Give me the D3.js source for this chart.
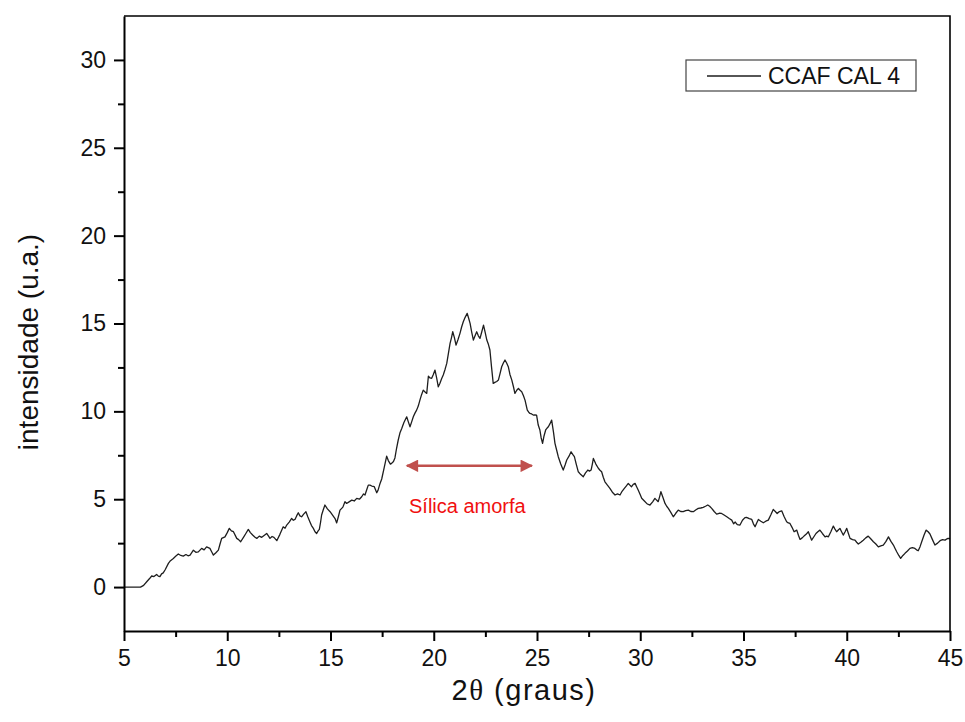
<!DOCTYPE html>
<html>
<head>
<meta charset="utf-8">
<title>CCAF CAL 4 - DRX</title>
<script src="https://d3js.org/d3.v7.min.js"></script>
<style>
  body { margin: 0; background: #fff; }
  text { font-family: "Liberation Sans", Arial, sans-serif; }
</style>
</head>
<body>
<div id="chart"></div>
<script>
// 2theta (graus)
const twoTheta = [
  5.0, 5.8, 5.95, 6.1, 6.25, 6.34, 6.45, 6.58, 6.66, 6.74, 6.82, 6.9, 7.0, 7.15, 7.25, 7.39, 7.5, 7.63, 7.75, 7.87,
  8.0, 8.1, 8.2, 8.36, 8.48, 8.6, 8.76, 8.88, 9.0, 9.16, 9.25, 9.33, 9.45, 9.57, 9.65, 9.73, 9.89, 10.0, 10.1, 10.2,
  10.3, 10.46, 10.55, 10.65, 10.8, 10.9, 11.02, 11.12, 11.23, 11.33, 11.43, 11.55, 11.67, 11.8, 11.91, 12.0, 12.07, 12.17, 12.26, 12.4,
  12.55, 12.71, 12.8, 12.88, 13.0, 13.12, 13.2, 13.28, 13.36, 13.44, 13.52, 13.6, 13.7, 13.81, 13.9, 14.0, 14.08, 14.17, 14.25, 14.33,
  14.4, 14.46, 14.52, 14.57, 14.65, 14.73, 14.85, 14.98, 15.1, 15.22, 15.3, 15.38, 15.46, 15.6, 15.7, 15.78, 15.9, 16.03, 16.15, 16.27,
  16.4, 16.51, 16.6, 16.67, 16.75, 16.83, 16.91, 17.0, 17.12, 17.24, 17.3, 17.4, 17.48, 17.6, 17.72, 17.8, 17.9, 17.96, 18.05, 18.12,
  18.2, 18.28, 18.37, 18.45, 18.55, 18.69, 18.77, 18.85, 18.93, 19.01, 19.09, 19.17, 19.25, 19.33, 19.41, 19.49, 19.58, 19.66, 19.74, 19.82,
  19.9, 19.98, 20.06, 20.14, 20.22, 20.3, 20.38, 20.46, 20.55, 20.63, 20.71, 20.79, 20.86, 20.92, 21.0, 21.08, 21.18, 21.27, 21.35, 21.43,
  21.52, 21.62, 21.69, 21.76, 21.84, 21.92, 22.0, 22.08, 22.16, 22.24, 22.32, 22.41, 22.49, 22.57, 22.65, 22.72, 22.8, 22.88, 22.96, 23.05,
  23.13, 23.21, 23.29, 23.37, 23.45, 23.53, 23.61, 23.69, 23.78, 23.86, 23.93, 24.02, 24.1, 24.18, 24.26, 24.34, 24.42, 24.53, 24.6, 24.66,
  24.74, 24.82, 24.9, 24.98, 25.06, 25.14, 25.2, 25.27, 25.34, 25.42, 25.49, 25.55, 25.63, 25.71, 25.8, 25.87, 25.95, 26.03, 26.15, 26.27,
  26.36, 26.44, 26.55, 26.65, 26.73, 26.81, 26.9, 27.0, 27.12, 27.24, 27.35, 27.46, 27.54, 27.62, 27.68, 27.73, 27.85, 27.97, 28.05, 28.13,
  28.21, 28.29, 28.41, 28.53, 28.65, 28.78, 28.9, 29.02, 29.12, 29.23, 29.32, 29.42, 29.5, 29.58, 29.66, 29.75, 29.83, 29.9, 30.0, 30.07,
  30.2, 30.31, 30.39, 30.47, 30.6, 30.71, 30.79, 30.87, 30.94, 31.0, 31.1, 31.2, 31.28, 31.36, 31.48, 31.6, 31.72, 31.84, 31.96, 32.08,
  32.2, 32.33, 32.45, 32.57, 32.7, 32.81, 32.93, 33.05, 33.16, 33.27, 33.36, 33.46, 33.58, 33.7, 33.82, 33.94, 34.06, 34.19, 34.31, 34.43,
  34.52, 34.6, 34.7, 34.83, 34.95, 35.07, 35.15, 35.28, 35.4, 35.48, 35.56, 35.64, 35.72, 35.84, 35.96, 36.08, 36.2, 36.32, 36.44, 36.54,
  36.63, 36.74, 36.85, 36.97, 37.09, 37.17, 37.25, 37.35, 37.45, 37.52, 37.58, 37.66, 37.74, 37.84, 37.93, 38.03, 38.14, 38.22, 38.3, 38.4,
  38.51, 38.6, 38.7, 38.82, 38.95, 39.03, 39.11, 39.23, 39.35, 39.43, 39.51, 39.59, 39.67, 39.75, 39.83, 39.92, 40.0, 40.08, 40.16, 40.28,
  40.4, 40.48, 40.56, 40.68, 40.8, 40.92, 41.04, 41.16, 41.29, 41.41, 41.53, 41.65, 41.77, 41.9, 42.02, 42.14, 42.26, 42.34, 42.42, 42.52,
  42.61, 42.72, 42.82, 42.94, 43.06, 43.18, 43.3, 43.38, 43.46, 43.55, 43.63, 43.74, 43.84, 43.94, 44.03, 44.15, 44.27, 44.4, 44.52, 44.64,
  44.76, 44.86, 44.92, 45.0
];

// intensidade (u.a.)
const intensity = [
  0, 0, 0.1, 0.3, 0.5, 0.63, 0.6, 0.72, 0.62, 0.59, 0.75, 0.81, 1.0, 1.35, 1.5, 1.63, 1.75, 1.88, 1.8, 1.76,
  1.85, 1.78, 1.82, 2.1, 1.98, 2.0, 2.2, 2.12, 2.29, 2.2, 2.0, 1.82, 1.95, 2.1, 2.45, 2.77, 2.86, 3.1, 3.34, 3.2,
  3.15, 2.77, 2.7, 2.58, 2.86, 3.05, 3.28, 3.1, 2.96, 2.85, 2.77, 2.9, 2.83, 2.95, 3.05, 2.9, 2.77, 2.88, 2.83, 2.64,
  3.0, 3.43, 3.35, 3.53, 3.7, 3.91, 3.8, 3.85, 4.05, 4.23, 4.05, 4.0, 4.15, 4.29, 4.0, 3.72, 3.5, 3.34, 3.15, 3.05,
  3.2, 3.28, 3.7, 4.1, 4.4, 4.67, 4.45, 4.29, 4.1, 3.9, 3.65, 4.0, 4.38, 4.55, 4.86, 4.76, 4.85, 4.95, 4.9, 5.05,
  5.0, 5.14, 5.3, 5.24, 5.52, 5.8, 5.8, 5.75, 5.71, 5.37, 5.5, 5.9, 6.15, 6.8, 7.45, 7.2, 7.0, 7.04, 7.15, 7.35,
  7.9, 8.37, 8.8, 9.03, 9.35, 9.69, 9.4, 9.12, 9.4, 9.69, 9.9, 10.07, 10.3, 10.64, 10.95, 11.21, 11.1, 11.02, 12.0, 11.9,
  11.88, 12.1, 12.35, 11.9, 11.4, 11.6, 11.85, 12.07, 12.4, 12.73, 13.3, 13.87, 14.2, 14.53, 14.2, 13.77, 14.1, 14.44, 14.8, 15.1,
  15.35, 15.58, 15.3, 15.01, 14.5, 14.06, 14.3, 14.53, 14.3, 14.15, 14.5, 14.91, 14.5, 14.06, 13.8, 13.49, 12.5, 11.59, 11.65, 11.7,
  11.78, 12.15, 12.54, 12.75, 12.92, 12.75, 12.54, 12.1, 11.78, 11.4, 11.02, 11.2, 11.31, 11.2, 11.12, 10.9, 10.64, 10.07, 9.95, 9.88,
  9.85, 9.79, 9.8, 9.79, 9.22, 8.94, 8.5, 8.18, 8.6, 8.94, 9.05, 9.12, 9.3, 9.5, 8.8, 8.18, 7.8, 7.42, 7.0, 6.66,
  6.95, 7.23, 7.45, 7.7, 7.55, 7.42, 7.0, 6.56, 6.4, 6.28, 6.5, 6.66, 6.6, 6.66, 7.0, 7.32, 7.0, 6.76, 6.65, 6.56,
  6.25, 5.99, 5.8, 5.62, 5.4, 5.24, 5.3, 5.24, 5.45, 5.62, 5.75, 5.9, 5.8, 5.71, 5.85, 5.9, 5.7, 5.52, 5.25, 5.05,
  4.9, 4.76, 4.7, 4.67, 4.85, 5.05, 4.95, 4.86, 5.15, 5.43, 5.1, 4.76, 4.6, 4.48, 4.25, 4.0, 4.2, 4.38, 4.3, 4.29,
  4.35, 4.38, 4.3, 4.29, 4.4, 4.48, 4.5, 4.54, 4.6, 4.67, 4.6, 4.48, 4.3, 4.15, 4.2, 4.19, 4.1, 4.0, 3.9, 3.81,
  3.6, 3.7, 3.55, 3.53, 3.8, 3.95, 3.97, 3.9, 3.85, 3.6, 3.43, 3.65, 3.85, 3.75, 3.66, 3.75, 3.81, 4.1, 4.42, 4.3,
  4.19, 4.3, 4.34, 4.0, 3.72, 3.65, 3.62, 3.4, 3.15, 3.2, 3.24, 2.95, 2.71, 2.8, 2.9, 3.0, 3.15, 2.9, 2.67, 2.85,
  3.05, 3.15, 3.24, 3.05, 2.86, 2.9, 2.86, 3.15, 3.47, 3.3, 3.15, 3.25, 3.34, 3.15, 2.96, 3.15, 3.34, 3.05, 2.77, 2.7,
  2.67, 2.55, 2.45, 2.55, 2.67, 2.8, 2.9, 2.75, 2.58, 2.45, 2.29, 2.35, 2.39, 2.6, 2.86, 2.6, 2.39, 2.2, 2.01, 1.8,
  1.63, 1.8, 1.92, 2.05, 2.2, 2.25, 2.2, 2.12, 2.07, 2.3, 2.58, 2.95, 3.24, 3.15, 3.02, 2.7, 2.39, 2.5, 2.64, 2.7,
  2.67, 2.75, 2.77, 2.75
];

const xMajor = [5, 10, 15, 20, 25, 30, 35, 40, 45];
const xMinor = [7.5, 12.5, 17.5, 22.5, 27.5, 32.5, 37.5, 42.5];
const yMajor = [0, 5, 10, 15, 20, 25, 30];
const yMinor = [2.5, 7.5, 12.5, 17.5, 22.5, 27.5];
const seriesName = "CCAF CAL 4";
const bandStart = 18.7, bandEnd = 24.75, bandLevel = 6.9;  // "Sílica amorfa" arrow

const W = 965, H = 722;
const margin = { top: 16, right: 15, bottom: 91, left: 124 };
const width = W - margin.left - margin.right,
      height = H - margin.top - margin.bottom;

const svg = d3.select("#chart").append("svg")
    .attr("width", W).attr("height", H);
const g = svg.append("g")
    .attr("transform", `translate(${margin.left},${margin.top})`);

const x = d3.scaleLinear().domain([5, 45]).range([0, width]);
const y = d3.scaleLinear().domain([-2.5, 32.5]).range([height, 0]);

// the curve
const data = twoTheta.map((t, i) => ({ t: t, v: intensity[i] }));
g.append("path")
    .datum(data)
    .attr("fill", "none")
    .attr("stroke", "#1e1e1e")
    .attr("stroke-width", 1.3)
    .attr("stroke-linejoin", "round")
    .attr("d", d3.line().x(d => x(d.t)).y(d => y(d.v)));

// frame (top + right)
g.append("path")
    .attr("d", `M0,0H${width}V${height}`)
    .attr("fill", "none")
    .attr("stroke", "#000")
    .attr("stroke-width", 1.6);

function styleAxis(sel) {
  sel.select(".domain").attr("stroke", "#000").attr("stroke-width", 2);
  sel.selectAll(".tick line").attr("stroke", "#000").attr("stroke-width", 2);
  sel.selectAll(".tick text")
    .attr("fill", "#111")
    .style("font-size", "23px")
    .style("font-family", "'Liberation Sans', Arial, sans-serif");
}

// X axis
g.append("g")
    .attr("transform", `translate(0,${height})`)
    .call(d3.axisBottom(x).tickValues(xMinor).tickSize(6).tickFormat(""))
    .call(s => s.select(".domain").remove())
    .call(styleAxis);
g.append("g")
    .attr("transform", `translate(0,${height})`)
    .call(d3.axisBottom(x).tickValues(xMajor).tickSize(10).tickSizeOuter(0).tickPadding(9))
    .call(styleAxis);

// axis titles
const xt = svg.append("text")
    .attr("x", 524)
    .attr("y", 700)
    .attr("text-anchor", "middle")
    .style("font-size", "29px")
    .style("letter-spacing", "1.5px")
    .attr("fill", "#111");
xt.append("tspan").text("2");
xt.append("tspan").style("font-family", "'Liberation Serif', 'DejaVu Serif', serif").text("θ");
xt.append("tspan").text(" (graus)");

// Y axis
g.append("g")
    .call(d3.axisLeft(y).tickValues(yMinor).tickSize(6).tickFormat(""))
    .call(s => s.select(".domain").remove())
    .call(styleAxis);
g.append("g")
    .call(d3.axisLeft(y).tickValues(yMajor).tickSize(10).tickSizeOuter(0).tickPadding(8))
    .call(styleAxis);

svg.append("text")
    .attr("transform", "translate(38,342) rotate(-90)")
    .attr("text-anchor", "middle")
    .style("font-size", "28px")
    .attr("fill", "#111")
    .text("intensidade (u.a.)");

// legend
const lg = svg.append("g").attr("transform", "translate(686,60)");
lg.append("rect")
    .attr("width", 230).attr("height", 31)
    .attr("fill", "#fff").attr("stroke", "#444").attr("stroke-width", 1.2);
lg.append("line")
    .attr("x1", 21).attr("x2", 75).attr("y1", 16).attr("y2", 16)
    .attr("stroke", "#1e1e1e").attr("stroke-width", 1.3);
lg.append("text")
    .attr("x", 82).attr("y", 24)
    .style("font-size", "23px")
    .attr("fill", "#111")
    .text(seriesName);

// annotation arrow
const red = "#c0504d";
svg.append("defs").append("marker")
    .attr("id", "head")
    .attr("viewBox", "0 0 10 10")
    .attr("refX", 9).attr("refY", 5)
    .attr("markerWidth", 6).attr("markerHeight", 5)
    .attr("markerUnits", "strokeWidth")
    .attr("orient", "auto-start-reverse")
  .append("path")
    .attr("d", "M0,0L10,5L0,10Z")
    .attr("fill", red);

g.append("line")
    .attr("x1", x(bandStart)).attr("x2", x(bandEnd))
    .attr("y1", y(bandLevel)).attr("y2", y(bandLevel))
    .attr("stroke", red).attr("stroke-width", 2.5)
    .attr("marker-start", "url(#head)")
    .attr("marker-end", "url(#head)");

g.append("text")
    .attr("x", x((bandStart + bandEnd) / 2) - 2)
    .attr("y", y(bandLevel) + 47)
    .attr("text-anchor", "middle")
    .style("font-size", "20px")
    .attr("fill", "#f01010")
    .text("Sílica amorfa");
</script>
</body>
</html>
